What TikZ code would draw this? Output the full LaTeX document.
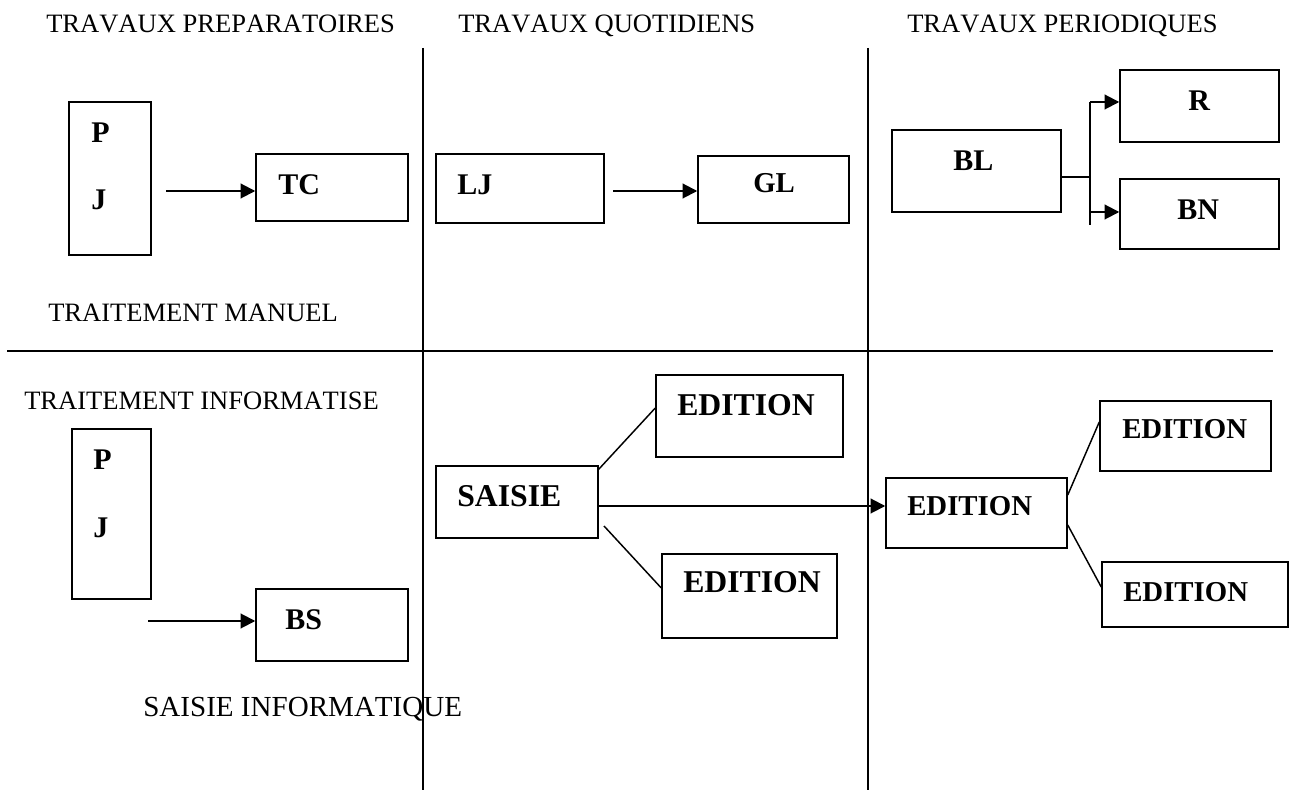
\documentclass[tikz,border=0pt]{standalone}
\usepackage{fontspec}
\setmainfont{Liberation Serif}[Kerning=Off]
\usetikzlibrary{arrows.meta,fit}

\begin{document}
\begin{tikzpicture}[
        x=0.75pt, y=-0.75pt,
        box/.style={draw, line width=1.1pt, inner sep=0pt},
        hdr/.style={anchor=base west, inner sep=0pt, font=\fontsize{19.9}{24}\selectfont},
        lbl/.style={anchor=base west, inner sep=0pt, font=\bfseries\fontsize{22.5}{27}\selectfont},
        biglbl/.style={lbl, font=\bfseries\fontsize{23.8}{28}\selectfont},
        smalllbl/.style={lbl, font=\bfseries\fontsize{21.6}{26}\selectfont},
        arr/.style={-{Triangle[length=11pt,width=11pt]}, line width=1.5pt},
        sep/.style={line width=1.1pt},
        link/.style={line width=1.1pt}
    ]

        \useasboundingbox (0,0) rectangle (1290,791);

        \draw[sep] (423,48) -- (423,790);
        \draw[sep] (868,48) -- (868,790);
        \draw[sep] (7,351) -- (1273,351);

        \node[hdr] (h-prep) at (46,33) {TRAVAUX PREPARATOIRES};
        \node[hdr] (h-quot) at (458,33) {TRAVAUX QUOTIDIENS};
        \node[hdr] (h-peri) at (907,33) {TRAVAUX PERIODIQUES};
        \node[hdr] (h-man) at (48,322) {TRAITEMENT MANUEL};
        \node[hdr] (h-info) at (24,410) {TRAITEMENT INFORMATISE};
        \node[hdr, font=\fontsize{21.8}{26}\selectfont] (h-saisie) at (143,716) {SAISIE INFORMATIQUE};

        \node[box, fit={(69,102) (151,255)}] (pj1) {};
        \node[lbl] (p1) at (91,143) {P};
        \node[lbl] (j1) at (91,210) {J};

        \node[box, fit={(256,154) (408,221)}] (tc) {};
        \node[lbl] (tc-t) at (278,195) {TC};

        \node[box, fit={(436,154) (604,223)}] (lj) {};
        \node[lbl] (lj-t) at (457,195) {LJ};

        \node[box, fit={(698,156) (849,223)}] (gl) {};
        \node[smalllbl] (gl-t) at (753,193) {GL};

        \node[box, fit={(892,130) (1061,212)}] (bl) {};
        \node[lbl] (bl-t) at (953,171) {BL};

        \node[box, fit={(1120,70) (1279,142)}] (r) {};
        \node[lbl] (r-t) at (1188,111) {R};

        \node[box, fit={(1120,179) (1279,249)}] (bn) {};
        \node[lbl] (bn-t) at (1177,220) {BN};

        \node[box, fit={(72,429) (151,599)}] (pj2) {};
        \node[lbl] (p2) at (93,470) {P};
        \node[lbl] (j2) at (93,538) {J};

        \node[box, fit={(256,589) (408,661)}] (bs) {};
        \node[lbl] (bs-t) at (285,629) {BS};

        \node[box, fit={(436,466) (598,538)}] (saisie) {};
        \node[biglbl] (saisie-t) at (457,507) {SAISIE};

        \node[box, fit={(656,375) (843,457)}] (ed1) {};
        \node[biglbl] (ed1-t) at (677,416) {EDITION};

        \node[box, fit={(662,554) (837,638)}] (ed2) {};
        \node[biglbl] (ed2-t) at (683,593) {EDITION};

        \node[box, fit={(886,478) (1067,548)}] (ed3) {};
        \node[smalllbl] (ed3-t) at (907,516) {EDITION};

        \node[box, fit={(1100,401) (1271,471)}] (ed4) {};
        \node[smalllbl] (ed4-t) at (1122,439) {EDITION};

        \node[box, fit={(1102,562) (1288,627)}] (ed5) {};
        \node[smalllbl] (ed5-t) at (1123,602) {EDITION};

        \coordinate (pj1-out) at (166,191);
        \coordinate (lj-out) at (613,191);
        \coordinate (bl-fork) at (1090,177);
        \coordinate (fork-r) at (1090,102);
        \coordinate (fork-bn) at (1090,212);
        \coordinate (fork-end) at (1090,225);
        \coordinate (pj2-out) at (148,621);
        \coordinate (saisie-out) at (598,506);
        \coordinate (saisie-low) at (604,526);

        \draw[arr] (pj1-out) -- (pj1-out -| tc.west);
        \draw[arr] (lj-out) -- (lj-out -| gl.west);
        \draw[link] (bl-fork -| bl.east) -- (bl-fork);
        \draw[link] (fork-r) -- (fork-end);
        \draw[arr] (fork-r) -- (fork-r -| r.west);
        \draw[arr] (fork-bn) -- (fork-bn -| bn.west);
        \draw[arr] (pj2-out) -- (pj2-out -| bs.west);
        \draw[link] ([yshift=-3pt]saisie.north east) -- ([yshift=6pt]ed1.west);
        \draw[arr] (saisie-out) -- (saisie-out -| ed3.west);
        \draw[link] (saisie-low) -- ([yshift=6pt]ed2.west);
        \draw[link] ([yshift=13.5pt]ed3.east) -- ([yshift=10.5pt]ed4.west);
        \draw[link] ([yshift=-9pt]ed3.east) -- ([yshift=5.6pt]ed5.west);

    \end{tikzpicture}
\end{document}
